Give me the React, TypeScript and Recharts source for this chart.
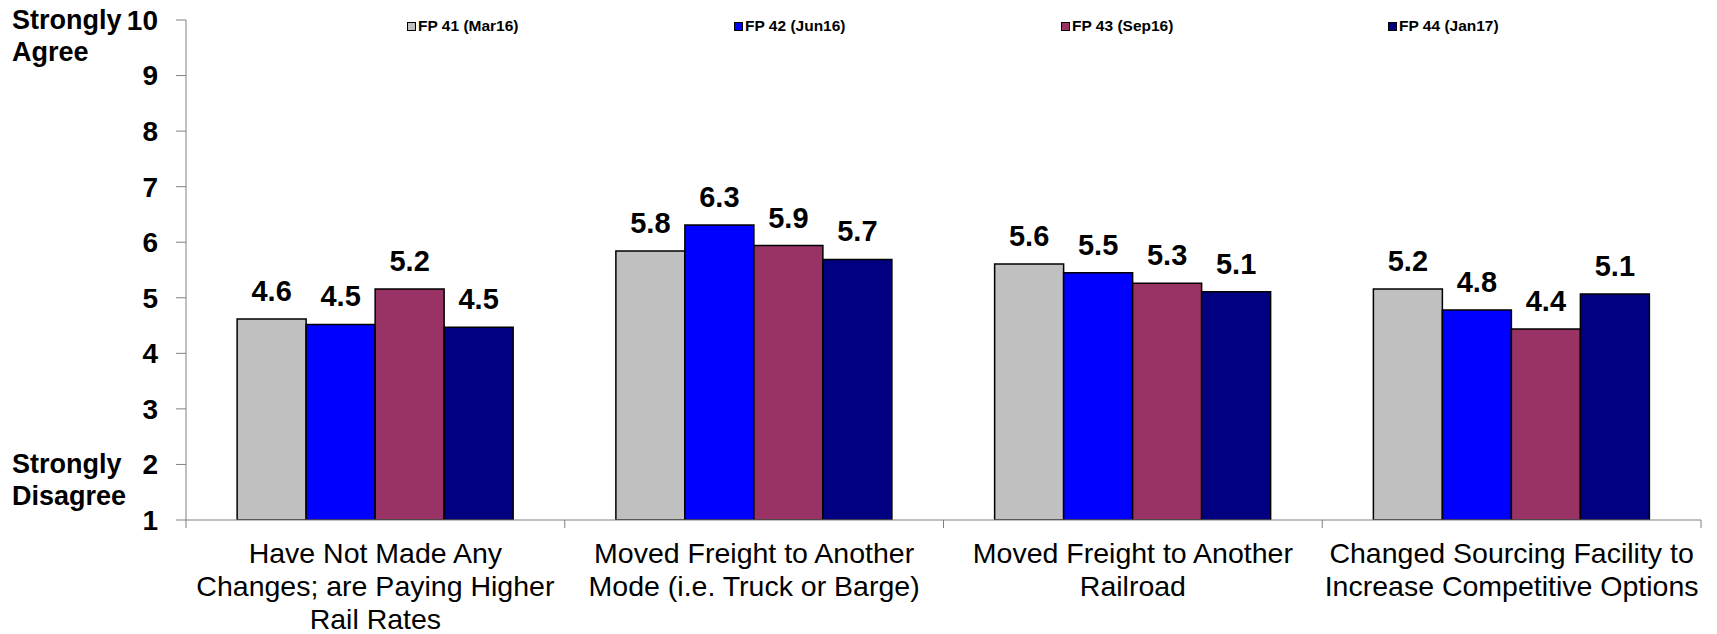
// Rail survey: responses to higher rail rates, by survey wave
import React from "react";
import { BarChart, Bar, XAxis, YAxis, LabelList } from "recharts";

const categories = [
  "Have Not Made Any\nChanges; are Paying Higher\nRail Rates",
  "Moved Freight to Another\nMode (i.e. Truck or Barge)",
  "Moved Freight to Another\nRailroad",
  "Changed Sourcing Facility to\nIncrease Competitive Options",
];

const fp41 = [4.62, 5.84, 5.61, 5.16];
const fp42 = [4.52, 6.31, 5.45, 4.78];
const fp43 = [5.16, 5.94, 5.26, 4.44];
const fp44 = [4.47, 5.69, 5.11, 5.07];

const seriesNames = ["FP 41 (Mar16)", "FP 42 (Jun16)", "FP 43 (Sep16)", "FP 44 (Jan17)"];
const seriesColors = ["#C0C0C0", "#0000FF", "#993366", "#000080"];
const yTicks = [1, 2, 3, 4, 5, 6, 7, 8, 9, 10];

const data = categories.map((name, i) => ({
  name,
  s0: fp41[i],
  s1: fp42[i],
  s2: fp43[i],
  s3: fp44[i],
}));

const FONT = "'Liberation Sans', Arial, sans-serif";

function CategoryTick(props: any) {
  const { x, y, payload, width, visibleTicksCount, index } = props;
  const half = payload.offset ?? width / visibleTicksCount / 2;
  const lines = String(payload.value).split("\n");
  return (
    <g>
      <line x1={x - half} x2={x - half} y1={y} y2={y + 8} stroke="#808080" />
      {index === visibleTicksCount - 1 && (
        <line x1={x + half} x2={x + half} y1={y} y2={y + 8} stroke="#808080" />
      )}
      <text x={x} y={y} textAnchor="middle" fontFamily={FONT} fontSize={28.5} fill="#000">
        {lines.map((l, i) => (
          <tspan key={i} x={x} dy={i === 0 ? 43 : 33}>
            {l}
          </tspan>
        ))}
      </text>
    </g>
  );
}

export default function App() {
  const sideLabel: React.CSSProperties = {
    position: "absolute",
    left: 12,
    fontFamily: FONT,
    fontWeight: "bold",
    fontSize: 27,
    lineHeight: "32px",
    color: "#000",
  };
  return (
    <div style={{ position: "absolute", left: 0, top: 0, width: 1717, height: 634, background: "#fff" }}>
      <BarChart
        width={1717}
        height={634}
        data={data}
        margin={{ top: 20, right: 16, bottom: 84, left: 0 }}
        barCategoryGap="13.5%"
        barGap={0}
      >
        <YAxis
          width={186}
          domain={[1, 10]}
          ticks={yTicks}
          interval={0}
          allowDataOverflow
          stroke="#808080"
          tickSize={10}
          tickMargin={18}
          tick={{ fontFamily: FONT, fontWeight: "bold", fontSize: 28, fill: "#000" }}
        />
        <XAxis
          dataKey="name"
          height={30}
          stroke="#808080"
          tickLine={false}
          tickSize={0}
          tickMargin={0}
          interval={0}
          tick={<CategoryTick />}
        />
        {seriesNames.map((n, k) => (
          <Bar
            key={n}
            dataKey={"s" + k}
            name={n}
            fill={seriesColors[k]}
            stroke="#000"
            strokeWidth={1.5}
            isAnimationActive={false}
          >
            <LabelList
              dataKey={"s" + k}
              position="top"
              offset={18}
              formatter={(v: any) => Number(v).toFixed(1)}
              style={{ fontFamily: FONT, fontWeight: "bold", fontSize: 29, fill: "#000" }}
            />
          </Bar>
        ))}
      </BarChart>

      <div style={{ ...sideLabel, top: 4 }}>
        Strongly
        <br />
        Agree
      </div>
      <div style={{ ...sideLabel, top: 448 }}>
        Strongly
        <br />
        Disagree
      </div>

      {seriesNames.map((n, k) => (
        <div
          key={n}
          style={{
            position: "absolute",
            left: 407 + k * 327,
            top: 16,
            display: "flex",
            alignItems: "center",
            fontFamily: FONT,
            fontWeight: "bold",
            fontSize: 15.5,
            lineHeight: "20px",
            color: "#000",
          }}
        >
          <span
            style={{
              display: "inline-block",
              width: 7,
              height: 7,
              background: seriesColors[k],
              border: "1.5px solid #000",
              marginRight: 2,
            }}
          />
          {n}
        </div>
      ))}
    </div>
  );
}
